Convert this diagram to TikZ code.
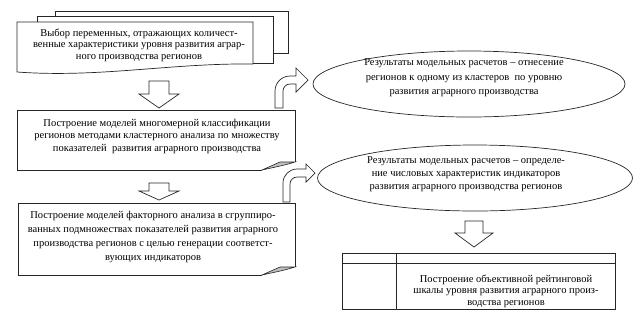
\documentclass[tikz,border=0pt]{standalone}
\usepackage{fontspec}
\setmainfont{Liberation Serif}
\newfontfamily\tnr[Ligatures=TeX]{Liberation Serif}
\usetikzlibrary{shapes.geometric}
\tikzset{
  shp/.style={draw=black!85, line width=0.7pt, line join=miter},
  txt/.style={align=center, inner sep=0pt, font=\tnr\fontsize{10.5}{12.5}\selectfont},
  oval/.style={shp, ellipse, inner sep=0pt},
  fold/.style={draw=black!85, line width=0.6pt, fill=black!25}
}
\begin{document}
\begin{tikzpicture}[x=1pt,y=-1pt]
\useasboundingbox (0,0) rectangle (644,317);
% multidocument
\draw[shp] (55,16) -- (55,11) -- (288,11) -- (288,53) -- (273,53);
\draw[shp] (37,22) -- (37,16) -- (273,16) -- (273,63) -- (253,63);
\draw[shp, fill=white] (17,22) -- (253,22) -- (253,64) .. controls (170,63) and (100,78) .. (17,72) -- cycle;
\node[txt, font=\tnr\fontsize{10.5}{11.5}\selectfont] (t1) at (139,45) {Выбор переменных, отражающих количест-\\венные характеристики уровня развития аграр-\\ного производства регионов};
% box 2
\draw[shp] (262,170) -- (17,170) -- (17,110) -- (295,110) -- (295,162);
\draw[fold] (262,170) -- (280,162) -- (295,162) .. controls (285,165) .. (262,170) -- cycle;
\node[txt] (t2) at (157,136) {Построение моделей многомерной классификации\\регионов методами кластерного анализа по множеству\\показателей\ \ развития аграрного производства};
% box 3
\draw[shp] (262,275) -- (18,275) -- (18,203) -- (295,203) -- (295,267);
\draw[fold] (262,275) -- (280,267) -- (295,267) .. controls (285,270) .. (262,275) -- cycle;
\node[txt, font=\tnr\fontsize{10.5}{14}\selectfont] (t3) at (153,237) {Построение моделей факторного анализа в сгруппиро-\\ванных подмножествах показателей развития аграрного\\производства регионов с целью генерации соответст-\\вующих индикаторов};
% down arrows
\draw[shp] (149,81) -- (169,81) -- (169,94) -- (179,94) -- (159,108) -- (139,94) -- (149,94) -- cycle;
\draw[shp] (149,183) -- (169,183) -- (169,191) -- (179,191) -- (159,200) -- (139,191) -- (149,191) -- cycle;
\draw[shp] (465,221) -- (483,221) -- (483,233) -- (493,233) -- (474,247) -- (455,233) -- (465,233) -- cycle;
% bent arrows
\draw[shp] (275,108) -- (275,91) arc[start angle=180, end angle=270, radius=15] -- (296,76) -- (296,68) -- (308,80) -- (296,92) -- (296,84) -- (290,84) arc[start angle=270, end angle=180, radius=7] -- (283,108) -- cycle;
\draw[shp] (283,202) -- (283,183) arc[start angle=180, end angle=270, radius=14] -- (306,169) -- (306,164) -- (315,173) -- (306,182) -- (306,177) -- (297,177) arc[start angle=270, end angle=180, radius=7] -- (290,202) -- cycle;
% ellipses
\node[oval, minimum width=312pt, minimum height=66pt] (e1) at (469,84) {};
\node[txt, font=\tnr\fontsize{10.5}{14.5}\selectfont] (t4) at (464,78) {Результаты модельных расчетов – отнесение\\регионов к одному из кластеров\ \ по уровню\\развития аграрного производства};
\node[oval, minimum width=315pt, minimum height=66pt] (e2) at (475,178) {};
\node[txt, font=\tnr\fontsize{10.5}{13}\selectfont] (t5) at (466,174) {Результаты модельных расчетов – определе-\\ние числовых характеристик индикаторов\\развития аграрного производства регионов};
% table box
\draw[shp] (342,253) rectangle (615,309);
\draw[shp] (342,263) -- (615,263);
\draw[shp] (396,253) -- (396,309);
\node[txt, font=\tnr\fontsize{10.5}{11.5}\selectfont] (t6) at (506,291) {Построение объективной рейтинговой\\шкалы уровня развития аграрного произ-\\водства регионов};
\end{tikzpicture}
\end{document}
